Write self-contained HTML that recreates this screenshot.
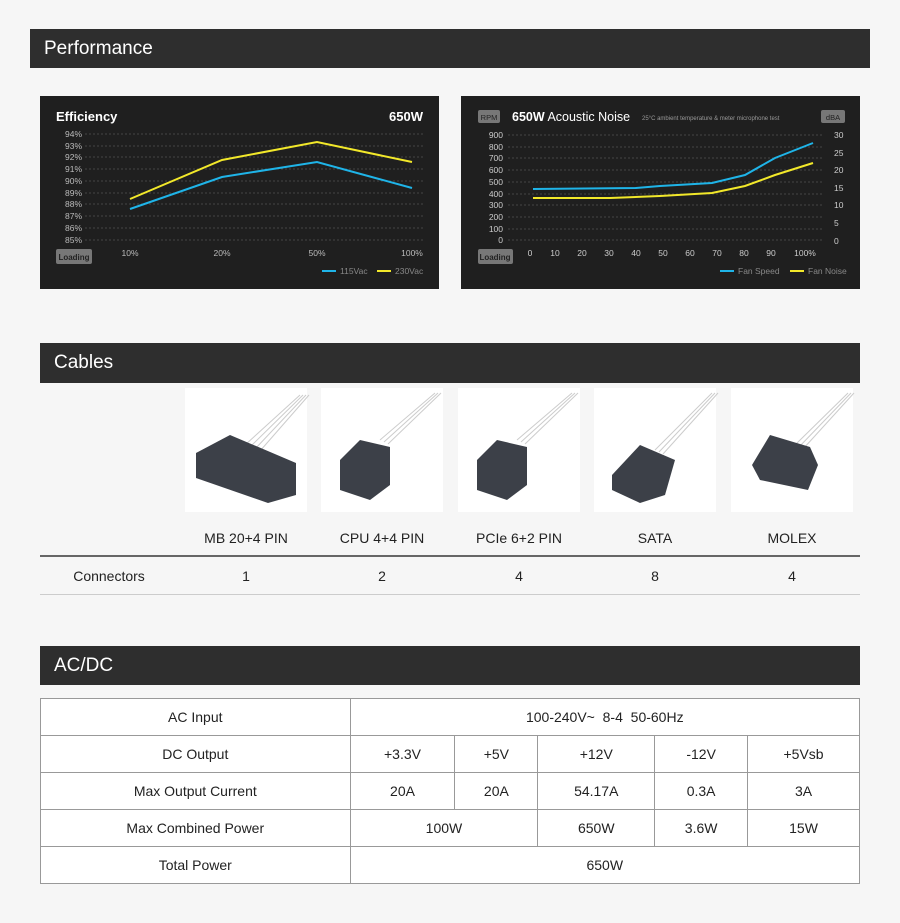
<!DOCTYPE html>
<html><head><meta charset="utf-8"><style>
*{margin:0;padding:0;box-sizing:border-box}
body{width:900px;height:923px;background:#f6f6f6;font-family:"Liberation Sans","DejaVu Sans",sans-serif;position:relative;overflow:hidden;color:#222}
.bar{position:absolute;background:#2e2e2e;color:#fff;font-size:19px;padding-left:14px;display:flex;align-items:center}
.t{position:absolute;font-size:14px;color:#222;text-align:center}
.box{position:absolute;background:#fff;top:388px;width:122px;height:124px}
table{position:absolute;left:40px;top:698px;width:820px;border-collapse:collapse;background:#fff}
td{border:1px solid #999;font-size:14px;text-align:center;height:37px;color:#222}
</style></head><body>
<div class="bar" style="left:30px;top:29px;width:840px;height:39px">Performance</div>
<svg style="position:absolute;left:0;top:0" width="900" height="300" font-family="Liberation Sans, sans-serif">
<rect x="40" y="96" width="399" height="193" fill="#1f1f1f"/>
<text x="56" y="121" fill="#fff" font-size="13" font-weight="bold">Efficiency</text>
<text x="423" y="121" fill="#fff" font-size="13" font-weight="bold" text-anchor="end">650W</text>
<g stroke="#444" stroke-dasharray="2,2" stroke-width="1">
<line x1="85" x2="423" y1="134" y2="134"/><line x1="85" x2="423" y1="146" y2="146"/><line x1="85" x2="423" y1="157" y2="157"/><line x1="85" x2="423" y1="169" y2="169"/><line x1="85" x2="423" y1="181" y2="181"/><line x1="85" x2="423" y1="193" y2="193"/><line x1="85" x2="423" y1="204" y2="204"/><line x1="85" x2="423" y1="216" y2="216"/><line x1="85" x2="423" y1="228" y2="228"/><line x1="85" x2="423" y1="240" y2="240"/></g>
<g fill="#bbb" font-size="8.5" text-anchor="end">
<text x="82" y="137">94%</text><text x="82" y="149">93%</text><text x="82" y="160">92%</text><text x="82" y="172">91%</text><text x="82" y="184">90%</text><text x="82" y="196">89%</text><text x="82" y="207">88%</text><text x="82" y="219">87%</text><text x="82" y="231">86%</text><text x="82" y="243">85%</text></g>
<g fill="#bbb" font-size="8.5" text-anchor="middle"><text x="130" y="256">10%</text><text x="222" y="256">20%</text><text x="317" y="256">50%</text><text x="412" y="256">100%</text></g>
<rect x="56" y="249" width="36" height="15" rx="2" fill="#777"/><text x="74" y="260" fill="#222" font-size="8" text-anchor="middle" font-weight="bold">Loading</text>
<polyline points="130,209 222,177 317,162 412,188" fill="none" stroke="#1fb4e8" stroke-width="2"/>
<polyline points="130,199 222,160 317,142 412,162" fill="none" stroke="#f2e82a" stroke-width="2"/>
<line x1="322" x2="336" y1="271" y2="271" stroke="#1fb4e8" stroke-width="2"/><text x="340" y="274" fill="#888" font-size="8.5">115Vac</text>
<line x1="377" x2="391" y1="271" y2="271" stroke="#f2e82a" stroke-width="2"/><text x="395" y="274" fill="#888" font-size="8.5">230Vac</text>

<rect x="461" y="96" width="399" height="193" fill="#1f1f1f"/>
<rect x="478" y="110" width="22" height="13" rx="2" fill="#777"/><text x="489" y="120" fill="#222" font-size="7.5" text-anchor="middle">RPM</text>
<rect x="821" y="110" width="24" height="13" rx="2" fill="#777"/><text x="833" y="120" fill="#222" font-size="7.5" text-anchor="middle">dBA</text>
<text x="512" y="121" fill="#fff" font-size="12.5"><tspan font-weight="bold">650W</tspan> Acoustic Noise</text>
<text x="642" y="120" fill="#999" font-size="6">25°C ambient temperature &amp; meter microphone test</text>
<g stroke="#444" stroke-dasharray="2,2"><line x1="508" x2="823" y1="135" y2="135"/><line x1="508" x2="823" y1="147" y2="147"/><line x1="508" x2="823" y1="158" y2="158"/><line x1="508" x2="823" y1="170" y2="170"/><line x1="508" x2="823" y1="182" y2="182"/><line x1="508" x2="823" y1="194" y2="194"/><line x1="508" x2="823" y1="205" y2="205"/><line x1="508" x2="823" y1="217" y2="217"/><line x1="508" x2="823" y1="229" y2="229"/><line x1="508" x2="823" y1="240" y2="240"/></g>
<g fill="#ccc" font-size="8.5" text-anchor="end"><text x="503" y="138">900</text><text x="503" y="150">800</text><text x="503" y="161">700</text><text x="503" y="173">600</text><text x="503" y="185">500</text><text x="503" y="197">400</text><text x="503" y="208">300</text><text x="503" y="220">200</text><text x="503" y="232">100</text><text x="503" y="243">0</text></g>
<g fill="#ccc" font-size="8.5"><text x="834" y="138">30</text><text x="834" y="156">25</text><text x="834" y="173">20</text><text x="834" y="191">15</text><text x="834" y="208">10</text><text x="834" y="226">5</text><text x="834" y="244">0</text></g>
<g fill="#ccc" font-size="8.5" text-anchor="middle"><text x="530" y="256">0</text><text x="555" y="256">10</text><text x="582" y="256">20</text><text x="609" y="256">30</text><text x="636" y="256">40</text><text x="663" y="256">50</text><text x="690" y="256">60</text><text x="717" y="256">70</text><text x="744" y="256">80</text><text x="771" y="256">90</text><text x="805" y="256">100%</text></g>
<rect x="478" y="249" width="35" height="15" rx="2" fill="#777"/><text x="495" y="260" fill="#222" font-size="8" text-anchor="middle" font-weight="bold">Loading</text>
<polyline points="533,189 636,188 660,186 712,183 745,175 775,158 813,143" fill="none" stroke="#1fb4e8" stroke-width="2"/>
<polyline points="533,198 610,198 660,196 712,193 745,186 775,175 813,163" fill="none" stroke="#f2e82a" stroke-width="2"/>
<line x1="720" x2="734" y1="271" y2="271" stroke="#1fb4e8" stroke-width="2"/><text x="738" y="274" fill="#888" font-size="8.5">Fan Speed</text>
<line x1="790" x2="804" y1="271" y2="271" stroke="#f2e82a" stroke-width="2"/><text x="808" y="274" fill="#888" font-size="8.5">Fan Noise</text>
</svg>

<div class="bar" style="left:40px;top:343px;width:820px;height:40px">Cables</div>
<div class="box" style="left:185px"></div><div class="box" style="left:321px"></div><div class="box" style="left:458px"></div><div class="box" style="left:594px"></div><div class="box" style="left:731px"></div>
<svg style="position:absolute;left:0;top:385px" width="900" height="130">
<g stroke="#ccc" stroke-width="1" fill="none">
<path d="M245,60 L300,10 M250,62 L303,10 M255,64 L306,10 M260,66 L309,10"/>
<path d="M380,55 L435,8 M384,57 L438,8 M388,59 L441,8"/>
<path d="M517,55 L572,8 M521,57 L575,8 M525,59 L578,8"/>
<path d="M655,65 L712,8 M659,67 L715,8 M663,69 L718,8"/>
<path d="M795,60 L848,8 M799,62 L851,8 M803,64 L854,8"/>
</g>
<g fill="#3c4048">
<polygon points="196,68 230,50 296,78 296,110 268,118 196,93"/>
<polygon points="340,75 360,55 390,62 390,100 370,115 340,105"/>
<polygon points="477,75 497,55 527,62 527,100 507,115 477,105"/>
<polygon points="612,90 640,60 675,75 665,110 640,118 612,105"/>
<polygon points="752,80 770,50 810,62 818,80 808,105 760,95"/>
</g>
</svg>
<div class="t" style="left:185px;top:530px;width:122px">MB 20+4 PIN</div>
<div class="t" style="left:321px;top:530px;width:122px">CPU 4+4 PIN</div>
<div class="t" style="left:458px;top:530px;width:122px">PCIe 6+2 PIN</div>
<div class="t" style="left:594px;top:530px;width:122px">SATA</div>
<div class="t" style="left:731px;top:530px;width:122px">MOLEX</div>
<div style="position:absolute;left:40px;top:555px;width:820px;height:2px;background:#666"></div>
<div class="t" style="left:40px;top:568px;width:138px">Connectors</div>
<div class="t" style="left:185px;top:568px;width:122px">1</div>
<div class="t" style="left:321px;top:568px;width:122px">2</div>
<div class="t" style="left:458px;top:568px;width:122px">4</div>
<div class="t" style="left:594px;top:568px;width:122px">8</div>
<div class="t" style="left:731px;top:568px;width:122px">4</div>
<div style="position:absolute;left:40px;top:594px;width:820px;height:1px;background:#ccc"></div>

<div class="bar" style="left:40px;top:646px;width:820px;height:39px">AC/DC</div>
<table>
<colgroup><col style="width:310px"><col style="width:105px"><col style="width:83px"><col style="width:117px"><col style="width:93px"><col style="width:112px"></colgroup>
<tr><td>AC Input</td><td colspan="5">100-240V~&nbsp; 8-4&nbsp; 50-60Hz</td></tr>
<tr><td>DC Output</td><td>+3.3V</td><td>+5V</td><td>+12V</td><td>-12V</td><td>+5Vsb</td></tr>
<tr><td>Max Output Current</td><td>20A</td><td>20A</td><td>54.17A</td><td>0.3A</td><td>3A</td></tr>
<tr><td>Max Combined Power</td><td colspan="2">100W</td><td>650W</td><td>3.6W</td><td>15W</td></tr>
<tr><td>Total Power</td><td colspan="5">650W</td></tr>
</table>
</body></html>
